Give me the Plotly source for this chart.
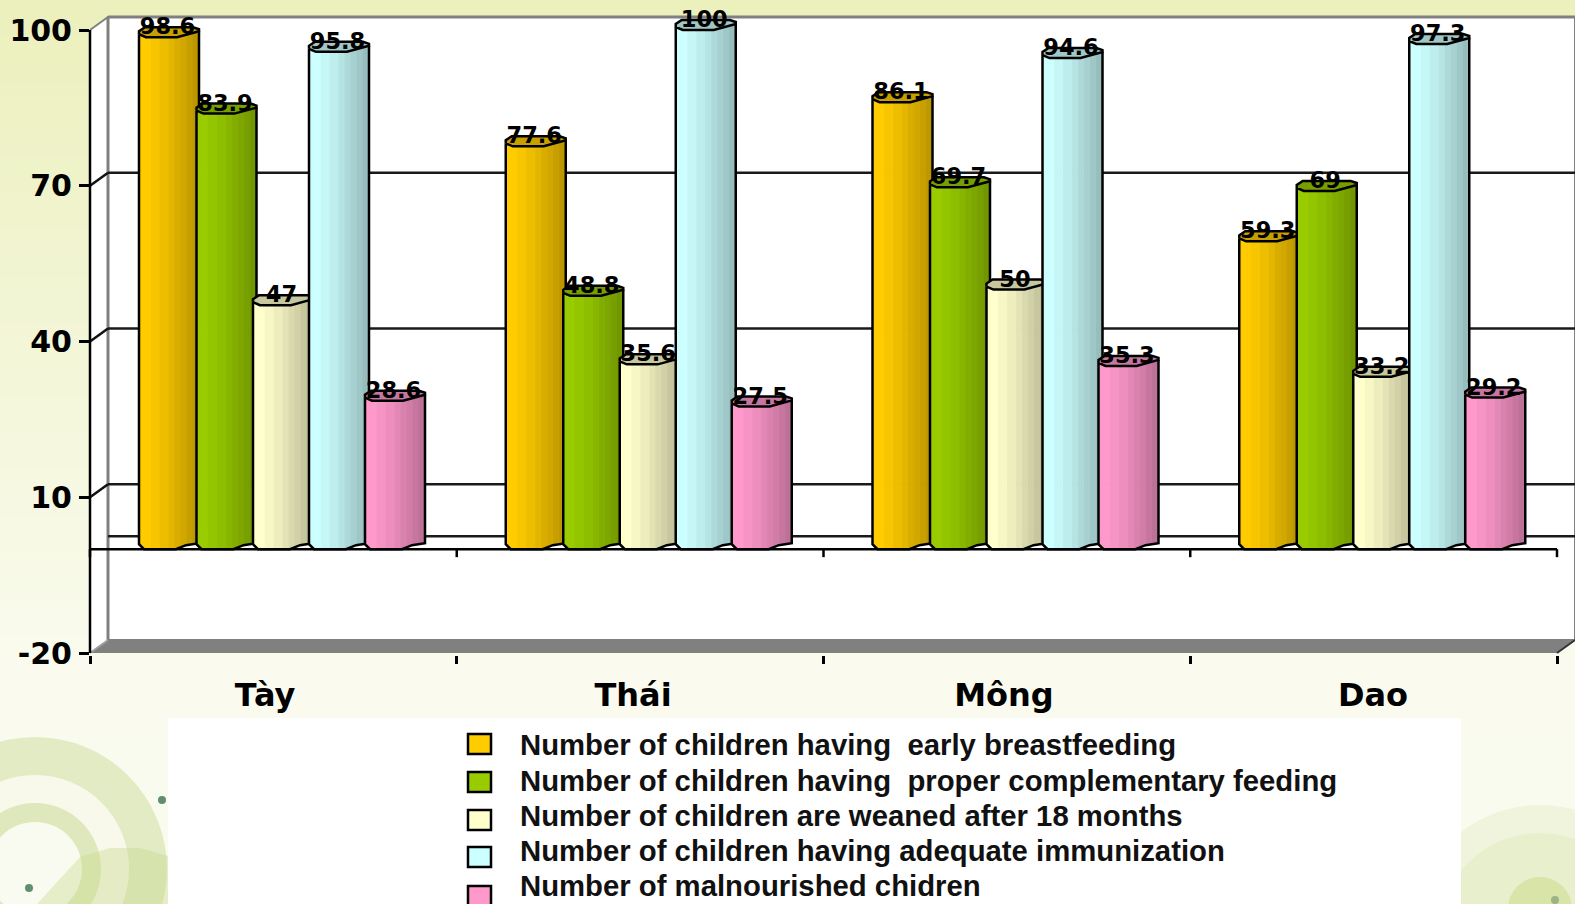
import plotly.graph_objects as go

# Survey results by ethnic group (percent)
groups = ["Tày", "Thái", "Mông", "Dao"]
series_names = [
    "Number of children having  early breastfeeding",
    "Number of children having  proper complementary feeding",
    "Number of children are weaned after 18 months",
    "Number of children having adequate immunization",
    "Number of malnourished chidren",
]
early_breastfeeding = [98.6, 77.6, 86.1, 59.3]
complementary_feeding = [83.9, 48.8, 69.7, 69]
weaned_after_18m = [47, 35.6, 50, 33.2]
adequate_immunization = [95.8, 100, 94.6, 97.3]
malnourished = [28.6, 27.5, 35.3, 29.2]
y_ticks = [-20, 10, 40, 70, 100]

all_series = [early_breastfeeding, complementary_feeding, weaned_after_18m,
              adequate_immunization, malnourished]
base_colors = [(255, 204, 0), (153, 204, 0), (255, 255, 204), (204, 255, 255), (255, 153, 204)]

W, H = 1575, 904
LEFT, RIGHT = 90, 1557
TOP, BOTTOM = 30, 653
DX, DY = 18, 13              # oblique depth of the chart box
UX = (RIGHT - LEFT) / 4      # pixels per category
UY = (BOTTOM - TOP) / 120    # pixels per percent
RANGE_TOP = 100 + TOP / UY   # headroom so column tops above 100 stay visible


def px_x(x):
    return LEFT + x * UX


def px_y(v):
    return BOTTOM - (v + 20) * UY


def paper_x(p):
    return p / W


def paper_y(p):
    return 1 - p / H


def rect(x0, y0, x1, y1, fill, layer="below", line=None, width=0):
    return dict(type="rect", xref="paper", yref="paper",
                x0=paper_x(x0), x1=paper_x(x1), y0=paper_y(y0), y1=paper_y(y1),
                fillcolor=fill, layer=layer,
                line=dict(color=line or "rgba(0,0,0,0)", width=width))


def seg(x0, y0, x1, y1, color="#111111", width=2, layer="below"):
    return dict(type="line", xref="paper", yref="paper",
                x0=paper_x(x0), x1=paper_x(x1), y0=paper_y(y0), y1=paper_y(y1),
                layer=layer, line=dict(color=color, width=width))


def poly(points, fill, layer="below", opacity=1.0):
    d = "M " + " L ".join(f"{paper_x(a):.5f} {paper_y(b):.5f}" for a, b in points) + " Z"
    return dict(type="path", xref="paper", yref="paper", path=d, fillcolor=fill,
                layer=layer, opacity=opacity, line=dict(width=0))


def disc(cx, cy, r, fill, opacity=1.0):
    return dict(type="circle", xref="paper", yref="paper",
                x0=paper_x(cx - r), x1=paper_x(cx + r),
                y0=paper_y(cy - r), y1=paper_y(cy + r),
                fillcolor=fill, layer="below", opacity=opacity, line=dict(width=0))


shapes = []

# Page backdrop: pale green fading toward the bottom
stops = [(0, (236, 240, 188)), (300, (242, 245, 212)), (660, (250, 251, 238)), (904, (250, 251, 240))]
for top in range(0, H, 12):
    for (a, ca), (b, cb) in zip(stops, stops[1:]):
        if a <= top <= b:
            t = (top - a) / (b - a)
            c = tuple(round(ca[i] + (cb[i] - ca[i]) * t) for i in range(3))
            break
    shapes.append(rect(0, top, W, top + 13, f"rgb{c}"))

# Decorative rings in the lower corners
shapes += [
    disc(35, 869, 132, "#E3EBC4"), disc(35, 869, 94, "#F8F9EA"),
    disc(35, 869, 66, "#DFE8BC"), disc(35, 869, 47, "#FAFBF0"),
    poly([(37, 904), (80, 857), (110, 848), (140, 848), (168, 856), (168, 904)], "#C6D88A", opacity=0.38),
    disc(162, 800, 4, "#5E9070"), disc(29, 888, 4, "#5E9070"),
    disc(1540, 935, 130, "#F1F4DD"), disc(1540, 935, 102, "#E8EFCD"),
    disc(1540, 909, 32, "#D8E4A8"), disc(1555, 900, 4, "#9DB384"),
]

# White legend panel
shapes.append(rect(168, 718, 1461, H + 2, "#FFFFFF"))

# Box walls: back wall, left wall and floor of the oblique frame
shapes.append(rect(LEFT + DX, TOP - DY, RIGHT + DX, BOTTOM - DY, "#FFFFFF", line="#808080", width=2))
shapes.append(poly([(LEFT, TOP), (LEFT + DX, TOP - DY), (LEFT + DX, BOTTOM - DY), (LEFT, BOTTOM)], "#FFFFFF"))
shapes.append(poly([(LEFT, BOTTOM), (LEFT + DX, BOTTOM - DY), (RIGHT + DX, BOTTOM - DY), (RIGHT, BOTTOM)], "#808080"))
shapes.append(seg(LEFT + DX, TOP - DY, LEFT + DX, BOTTOM - DY, "#808080", 3))
shapes.append(seg(LEFT + DX, TOP - DY, RIGHT + DX, TOP - DY, "#808080", 3))

# Gridlines on the back wall with their oblique connectors
for v in y_ticks + [0]:
    y = px_y(v)
    if 0 <= v < 100:
        shapes.append(seg(LEFT + DX, y - DY, RIGHT + DX, y - DY, "#1A1A1A", 2.5))
    if v in (10, 40, 70):
        shapes.append(seg(LEFT, y, LEFT + DX, y - DY, "#111111", 2.5))
shapes.append(seg(LEFT, TOP, LEFT + DX, TOP - DY, "#808080", 2))
shapes.append(seg(LEFT, BOTTOM, LEFT + DX, BOTTOM - DY, "#A0A0A0", 2))
shapes.append(seg(RIGHT, BOTTOM, RIGHT + DX, BOTTOM - DY, "#333333", 2))

# Value axis line, stopping at the top tick
shapes.append(seg(LEFT, TOP, LEFT, BOTTOM, "#000000", 2.5, "above"))

# Category axis drawn across the zero level
zero_y = px_y(0)
shapes.append(seg(LEFT, zero_y, RIGHT, zero_y, "#000000", 2.5, "above"))
for i in range(5):
    shapes.append(seg(px_x(i), zero_y, px_x(i), zero_y + 8, "#000000", 2.5, "above"))

# Cylinder cross-section, in pixels relative to a column's left edge
COL_W = 60
COL_LEFTS = [0, 57.5, 114, 170, 226]
GROUP_PAD = 49
SHADE_EDGES = [0, 11, 20, 29, 37, 43, 49, 54, 60]
SHADES = [1.0, 0.97, 0.93, 0.89, 0.85, 0.82, 0.78, 0.74]
CAP_SHADE = 0.78
TOP_FRONT = [(0, 3), (7, 0), (38, 0), (60, 6)]
BOTTOM_EDGE = [(0, 5), (5, 0), (37, 0), (47, 4), (60, 6)]
CAP_RING = [(0, 3), (7, 0), (38, 0), (60, 6), (60, 8), (54, 10), (6, 10), (0, 6)]
STRIP = 3
STRIP_OVERLAP = 0.8
LABEL_DX = 28.5
LABEL_RISE = 8.5


def lerp_edge(edge, x):
    for (a, ya), (b, yb) in zip(edge, edge[1:]):
        if a <= x <= b:
            return ya + (yb - ya) * (x - a) / (b - a)
    return edge[-1][1]


def shade(rgb, f):
    return "rgb({},{},{})".format(*(round(c * f) for c in rgb))


traces = []
for s, (name, values, rgb) in enumerate(zip(series_names, all_series, base_colors)):
    xs, heights, bases, colors = [], [], [], []
    outline_x, outline_y, cap_x, cap_y = [], [], [], []
    for g, v in enumerate(values):
        left = px_x(g) + GROUP_PAD + COL_LEFTS[s]
        for k in range(COL_W // STRIP):
            mid = (k + 0.5) * STRIP
            base = lerp_edge(BOTTOM_EDGE, mid) / UY
            top = v + lerp_edge(TOP_FRONT, mid) / UY
            xs.append((left + mid - LEFT) / UX)
            bases.append(base)
            heights.append(top - base)
            band = next(i for i in range(len(SHADES)) if mid <= SHADE_EDGES[i + 1])
            colors.append(shade(rgb, SHADES[band]))
        # Silhouette of the column body
        for a, up in [(0, v + 3 / UY)] + [(a, b / UY) for a, b in BOTTOM_EDGE] + [(60, v + 6 / UY)]:
            outline_x.append((left + a - LEFT) / UX)
            outline_y.append(up)
        outline_x.append(None)
        outline_y.append(None)
        # Shaded top of the column
        for a, b in CAP_RING + CAP_RING[:1]:
            cap_x.append((left + a - LEFT) / UX)
            cap_y.append(v + b / UY)
        cap_x.append(None)
        cap_y.append(None)
    z = s * 3 + 1
    traces.append(go.Bar(x=xs, y=heights, base=bases, width=(STRIP + STRIP_OVERLAP) / UX, name=name,
                         marker=dict(color=colors, line=dict(width=0)),
                         cliponaxis=False, showlegend=False, hoverinfo="skip", zorder=z))
    traces.append(go.Scatter(x=outline_x, y=outline_y, mode="lines", cliponaxis=False,
                             line=dict(color="#000000", width=2.5), showlegend=False,
                             hoverinfo="skip", zorder=z + 1))
    traces.append(go.Scatter(x=cap_x, y=cap_y, mode="lines", fill="toself", cliponaxis=False,
                             fillcolor=shade(rgb, CAP_SHADE),
                             line=dict(color="#000000", width=2.5), showlegend=False,
                             hoverinfo="skip", zorder=z + 2))

# Value labels sitting on the column tops
for s, values in enumerate(all_series):
    traces.append(go.Scatter(
        x=[(px_x(g) + GROUP_PAD + COL_LEFTS[s] + LABEL_DX - LEFT) / UX for g in range(4)],
        y=[v + LABEL_RISE / UY for v in values],
        text=[str(v) for v in values],
        mode="text", textposition="middle center", cliponaxis=False,
        textfont=dict(family="DejaVu Sans", size=22.5, color="#000000", weight="bold"),
        showlegend=False, hoverinfo="skip", zorder=50))

# Legend panel entries
LEGEND_SWATCH_Y = [744, 782, 820, 857, 896]
LEGEND_TEXT_Y = [744, 780, 815.5, 850.5, 885.5]
annotations = []
for name, rgb, sy, ty in zip(series_names, base_colors, LEGEND_SWATCH_Y, LEGEND_TEXT_Y):
    shapes.append(rect(468, sy - 10, 491, sy + 10, f"rgb{rgb}", "above", "#000000", 2.5))
    annotations.append(dict(xref="paper", yref="paper", x=paper_x(518), y=paper_y(ty),
                            xanchor="left", yanchor="middle", showarrow=False, text=name,
                            font=dict(family="Liberation Sans", size=29.3, color="#111111", weight="bold")))

group_label_px = [265, 633, 1004, 1373]

fig = go.Figure(traces)
fig.update_layout(
    width=W, height=H, margin=dict(l=0, r=0, t=0, b=0, autoexpand=False),
    paper_bgcolor="rgba(0,0,0,0)", plot_bgcolor="rgba(0,0,0,0)",
    barmode="overlay", showlegend=False, shapes=shapes, annotations=annotations,
    xaxis=dict(domain=[paper_x(LEFT), paper_x(RIGHT)], range=[0, 4], showgrid=False, zeroline=False,
               automargin=False, showline=True, linecolor="#000000", linewidth=2.5,
               tickmode="array", tickvals=[(p - LEFT) / UX for p in group_label_px], ticktext=groups,
               ticks="", ticklabelstandoff=12,
               tickfont=dict(family="DejaVu Sans", size=32, color="#000000", weight="bold"),
               minor=dict(tickmode="array", tickvals=[0, 1, 2, 3, 4], ticks="outside",
                          ticklen=8, tickwidth=2.5, tickcolor="#000000", showgrid=False)),
    yaxis=dict(domain=[paper_y(BOTTOM), 1], range=[-20, RANGE_TOP], showgrid=False, zeroline=False,
               automargin=False, showline=False,
               tickmode="array", tickvals=y_ticks, ticktext=[str(v) for v in y_ticks],
               ticks="outside", ticklen=10, tickwidth=2.5,
               tickcolor="#000000", ticklabelstandoff=1,
               tickfont=dict(family="DejaVu Sans", size=30, color="#000000", weight="bold")),
)
fig.write_html("out.html")
